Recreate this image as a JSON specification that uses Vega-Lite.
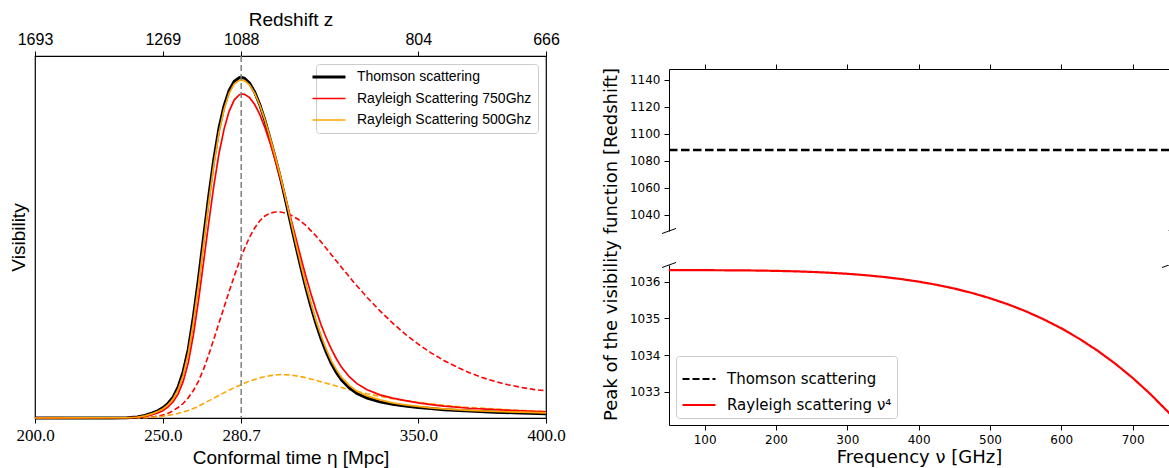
{
  "$schema": "https://vega.github.io/schema/vega-lite/v6.json",
  "background": "white",
  "padding": {"left": 8, "top": 9, "right": 0, "bottom": 0},
  "autosize": {"type": "pad"},
  "config": {
    "font": "DejaVu Sans",
    "view": {"stroke": null},
    "axis": {"grid": false, "domainColor": "black", "tickColor": "black", "labelColor": "black", "titleColor": "black", "titleFontWeight": "normal", "tickSize": 5, "labelPadding": 4, "domainWidth": 1, "tickWidth": 1, "labelFlush": false, "labelOverlap": false},
    "legend": {"labelLimit": 400}
  },
  "datasets": {
    "vis": [
      {"eta":200,"v":0,"s":"Thomson scattering","k":"solid"},{"eta":230,"v":0,"s":"Thomson scattering","k":"solid"},{"eta":236,"v":0.001,"s":"Thomson scattering","k":"solid"},{"eta":240,"v":0.003,"s":"Thomson scattering","k":"solid"},{"eta":243,"v":0.007,"s":"Thomson scattering","k":"solid"},{"eta":246,"v":0.014,"s":"Thomson scattering","k":"solid"},{"eta":248,"v":0.02,"s":"Thomson scattering","k":"solid"},{"eta":250,"v":0.028,"s":"Thomson scattering","k":"solid"},{"eta":252,"v":0.04,"s":"Thomson scattering","k":"solid"},{"eta":254,"v":0.057,"s":"Thomson scattering","k":"solid"},{"eta":256,"v":0.085,"s":"Thomson scattering","k":"solid"},{"eta":258,"v":0.128,"s":"Thomson scattering","k":"solid"},{"eta":260,"v":0.19,"s":"Thomson scattering","k":"solid"},{"eta":262,"v":0.28,"s":"Thomson scattering","k":"solid"},{"eta":264,"v":0.385,"s":"Thomson scattering","k":"solid"},{"eta":266,"v":0.5,"s":"Thomson scattering","k":"solid"},{"eta":268,"v":0.612,"s":"Thomson scattering","k":"solid"},{"eta":270,"v":0.715,"s":"Thomson scattering","k":"solid"},{"eta":272,"v":0.8,"s":"Thomson scattering","k":"solid"},{"eta":274,"v":0.862,"s":"Thomson scattering","k":"solid"},{"eta":276,"v":0.905,"s":"Thomson scattering","k":"solid"},{"eta":278,"v":0.93,"s":"Thomson scattering","k":"solid"},{"eta":280,"v":0.94,"s":"Thomson scattering","k":"solid"},{"eta":280.7,"v":0.941,"s":"Thomson scattering","k":"solid"},{"eta":282,"v":0.938,"s":"Thomson scattering","k":"solid"},{"eta":284,"v":0.925,"s":"Thomson scattering","k":"solid"},{"eta":286,"v":0.9,"s":"Thomson scattering","k":"solid"},{"eta":288,"v":0.865,"s":"Thomson scattering","k":"solid"},{"eta":290,"v":0.822,"s":"Thomson scattering","k":"solid"},{"eta":292,"v":0.772,"s":"Thomson scattering","k":"solid"},{"eta":294,"v":0.72,"s":"Thomson scattering","k":"solid"},{"eta":296,"v":0.665,"s":"Thomson scattering","k":"solid"},{"eta":298,"v":0.604,"s":"Thomson scattering","k":"solid"},{"eta":300,"v":0.54,"s":"Thomson scattering","k":"solid"},{"eta":302,"v":0.478,"s":"Thomson scattering","k":"solid"},{"eta":304,"v":0.418,"s":"Thomson scattering","k":"solid"},{"eta":306,"v":0.36,"s":"Thomson scattering","k":"solid"},{"eta":308,"v":0.308,"s":"Thomson scattering","k":"solid"},{"eta":310,"v":0.26,"s":"Thomson scattering","k":"solid"},{"eta":312,"v":0.218,"s":"Thomson scattering","k":"solid"},{"eta":314,"v":0.182,"s":"Thomson scattering","k":"solid"},{"eta":316,"v":0.15,"s":"Thomson scattering","k":"solid"},{"eta":318,"v":0.125,"s":"Thomson scattering","k":"solid"},{"eta":320,"v":0.105,"s":"Thomson scattering","k":"solid"},{"eta":323,"v":0.083,"s":"Thomson scattering","k":"solid"},{"eta":326,"v":0.068,"s":"Thomson scattering","k":"solid"},{"eta":330,"v":0.055,"s":"Thomson scattering","k":"solid"},{"eta":335,"v":0.045,"s":"Thomson scattering","k":"solid"},{"eta":340,"v":0.038,"s":"Thomson scattering","k":"solid"},{"eta":345,"v":0.033,"s":"Thomson scattering","k":"solid"},{"eta":350,"v":0.029,"s":"Thomson scattering","k":"solid"},{"eta":355,"v":0.026,"s":"Thomson scattering","k":"solid"},{"eta":360,"v":0.023,"s":"Thomson scattering","k":"solid"},{"eta":370,"v":0.019,"s":"Thomson scattering","k":"solid"},{"eta":380,"v":0.016,"s":"Thomson scattering","k":"solid"},{"eta":390,"v":0.014,"s":"Thomson scattering","k":"solid"},{"eta":400,"v":0.012,"s":"Thomson scattering","k":"solid"},

      {"eta":200,"v":0,"s":"Rayleigh Scattering 750Ghz","k":"solid"},{"eta":238,"v":0.001,"s":"Rayleigh Scattering 750Ghz","k":"solid"},{"eta":242,"v":0.003,"s":"Rayleigh Scattering 750Ghz","k":"solid"},{"eta":245,"v":0.007,"s":"Rayleigh Scattering 750Ghz","k":"solid"},{"eta":248,"v":0.014,"s":"Rayleigh Scattering 750Ghz","k":"solid"},{"eta":250,"v":0.02,"s":"Rayleigh Scattering 750Ghz","k":"solid"},{"eta":252,"v":0.03,"s":"Rayleigh Scattering 750Ghz","k":"solid"},{"eta":254,"v":0.044,"s":"Rayleigh Scattering 750Ghz","k":"solid"},{"eta":256,"v":0.066,"s":"Rayleigh Scattering 750Ghz","k":"solid"},{"eta":258,"v":0.101,"s":"Rayleigh Scattering 750Ghz","k":"solid"},{"eta":260,"v":0.153,"s":"Rayleigh Scattering 750Ghz","k":"solid"},{"eta":262,"v":0.23,"s":"Rayleigh Scattering 750Ghz","k":"solid"},{"eta":264,"v":0.325,"s":"Rayleigh Scattering 750Ghz","k":"solid"},{"eta":266,"v":0.432,"s":"Rayleigh Scattering 750Ghz","k":"solid"},{"eta":268,"v":0.54,"s":"Rayleigh Scattering 750Ghz","k":"solid"},{"eta":270,"v":0.642,"s":"Rayleigh Scattering 750Ghz","k":"solid"},{"eta":272,"v":0.73,"s":"Rayleigh Scattering 750Ghz","k":"solid"},{"eta":274,"v":0.798,"s":"Rayleigh Scattering 750Ghz","k":"solid"},{"eta":276,"v":0.848,"s":"Rayleigh Scattering 750Ghz","k":"solid"},{"eta":278,"v":0.879,"s":"Rayleigh Scattering 750Ghz","k":"solid"},{"eta":280,"v":0.893,"s":"Rayleigh Scattering 750Ghz","k":"solid"},{"eta":281,"v":0.895,"s":"Rayleigh Scattering 750Ghz","k":"solid"},{"eta":282,"v":0.894,"s":"Rayleigh Scattering 750Ghz","k":"solid"},{"eta":284,"v":0.885,"s":"Rayleigh Scattering 750Ghz","k":"solid"},{"eta":286,"v":0.866,"s":"Rayleigh Scattering 750Ghz","k":"solid"},{"eta":288,"v":0.838,"s":"Rayleigh Scattering 750Ghz","k":"solid"},{"eta":290,"v":0.802,"s":"Rayleigh Scattering 750Ghz","k":"solid"},{"eta":292,"v":0.76,"s":"Rayleigh Scattering 750Ghz","k":"solid"},{"eta":294,"v":0.713,"s":"Rayleigh Scattering 750Ghz","k":"solid"},{"eta":296,"v":0.663,"s":"Rayleigh Scattering 750Ghz","k":"solid"},{"eta":298,"v":0.61,"s":"Rayleigh Scattering 750Ghz","k":"solid"},{"eta":300,"v":0.555,"s":"Rayleigh Scattering 750Ghz","k":"solid"},{"eta":302,"v":0.5,"s":"Rayleigh Scattering 750Ghz","k":"solid"},{"eta":304,"v":0.445,"s":"Rayleigh Scattering 750Ghz","k":"solid"},{"eta":306,"v":0.392,"s":"Rayleigh Scattering 750Ghz","k":"solid"},{"eta":308,"v":0.343,"s":"Rayleigh Scattering 750Ghz","k":"solid"},{"eta":310,"v":0.298,"s":"Rayleigh Scattering 750Ghz","k":"solid"},{"eta":312,"v":0.257,"s":"Rayleigh Scattering 750Ghz","k":"solid"},{"eta":314,"v":0.221,"s":"Rayleigh Scattering 750Ghz","k":"solid"},{"eta":316,"v":0.19,"s":"Rayleigh Scattering 750Ghz","k":"solid"},{"eta":318,"v":0.163,"s":"Rayleigh Scattering 750Ghz","k":"solid"},{"eta":320,"v":0.14,"s":"Rayleigh Scattering 750Ghz","k":"solid"},{"eta":323,"v":0.114,"s":"Rayleigh Scattering 750Ghz","k":"solid"},{"eta":326,"v":0.095,"s":"Rayleigh Scattering 750Ghz","k":"solid"},{"eta":330,"v":0.078,"s":"Rayleigh Scattering 750Ghz","k":"solid"},{"eta":335,"v":0.064,"s":"Rayleigh Scattering 750Ghz","k":"solid"},{"eta":340,"v":0.055,"s":"Rayleigh Scattering 750Ghz","k":"solid"},{"eta":345,"v":0.048,"s":"Rayleigh Scattering 750Ghz","k":"solid"},{"eta":350,"v":0.042,"s":"Rayleigh Scattering 750Ghz","k":"solid"},{"eta":355,"v":0.037,"s":"Rayleigh Scattering 750Ghz","k":"solid"},{"eta":360,"v":0.033,"s":"Rayleigh Scattering 750Ghz","k":"solid"},{"eta":370,"v":0.027,"s":"Rayleigh Scattering 750Ghz","k":"solid"},{"eta":380,"v":0.023,"s":"Rayleigh Scattering 750Ghz","k":"solid"},{"eta":390,"v":0.02,"s":"Rayleigh Scattering 750Ghz","k":"solid"},{"eta":400,"v":0.017,"s":"Rayleigh Scattering 750Ghz","k":"solid"},

      {"eta":200,"v":0,"s":"Rayleigh Scattering 500Ghz","k":"solid"},{"eta":236,"v":0.001,"s":"Rayleigh Scattering 500Ghz","k":"solid"},{"eta":240,"v":0.002,"s":"Rayleigh Scattering 500Ghz","k":"solid"},{"eta":243,"v":0.006,"s":"Rayleigh Scattering 500Ghz","k":"solid"},{"eta":246,"v":0.012,"s":"Rayleigh Scattering 500Ghz","k":"solid"},{"eta":248,"v":0.018,"s":"Rayleigh Scattering 500Ghz","k":"solid"},{"eta":250,"v":0.025,"s":"Rayleigh Scattering 500Ghz","k":"solid"},{"eta":252,"v":0.036,"s":"Rayleigh Scattering 500Ghz","k":"solid"},{"eta":254,"v":0.052,"s":"Rayleigh Scattering 500Ghz","k":"solid"},{"eta":256,"v":0.078,"s":"Rayleigh Scattering 500Ghz","k":"solid"},{"eta":258,"v":0.118,"s":"Rayleigh Scattering 500Ghz","k":"solid"},{"eta":260,"v":0.178,"s":"Rayleigh Scattering 500Ghz","k":"solid"},{"eta":262,"v":0.265,"s":"Rayleigh Scattering 500Ghz","k":"solid"},{"eta":264,"v":0.368,"s":"Rayleigh Scattering 500Ghz","k":"solid"},{"eta":266,"v":0.482,"s":"Rayleigh Scattering 500Ghz","k":"solid"},{"eta":268,"v":0.595,"s":"Rayleigh Scattering 500Ghz","k":"solid"},{"eta":270,"v":0.7,"s":"Rayleigh Scattering 500Ghz","k":"solid"},{"eta":272,"v":0.787,"s":"Rayleigh Scattering 500Ghz","k":"solid"},{"eta":274,"v":0.852,"s":"Rayleigh Scattering 500Ghz","k":"solid"},{"eta":276,"v":0.897,"s":"Rayleigh Scattering 500Ghz","k":"solid"},{"eta":278,"v":0.923,"s":"Rayleigh Scattering 500Ghz","k":"solid"},{"eta":280,"v":0.933,"s":"Rayleigh Scattering 500Ghz","k":"solid"},{"eta":280.7,"v":0.934,"s":"Rayleigh Scattering 500Ghz","k":"solid"},{"eta":282,"v":0.932,"s":"Rayleigh Scattering 500Ghz","k":"solid"},{"eta":284,"v":0.92,"s":"Rayleigh Scattering 500Ghz","k":"solid"},{"eta":286,"v":0.897,"s":"Rayleigh Scattering 500Ghz","k":"solid"},{"eta":288,"v":0.864,"s":"Rayleigh Scattering 500Ghz","k":"solid"},{"eta":290,"v":0.823,"s":"Rayleigh Scattering 500Ghz","k":"solid"},{"eta":292,"v":0.775,"s":"Rayleigh Scattering 500Ghz","k":"solid"},{"eta":294,"v":0.724,"s":"Rayleigh Scattering 500Ghz","k":"solid"},{"eta":296,"v":0.67,"s":"Rayleigh Scattering 500Ghz","k":"solid"},{"eta":298,"v":0.61,"s":"Rayleigh Scattering 500Ghz","k":"solid"},{"eta":300,"v":0.548,"s":"Rayleigh Scattering 500Ghz","k":"solid"},{"eta":302,"v":0.486,"s":"Rayleigh Scattering 500Ghz","k":"solid"},{"eta":304,"v":0.426,"s":"Rayleigh Scattering 500Ghz","k":"solid"},{"eta":306,"v":0.369,"s":"Rayleigh Scattering 500Ghz","k":"solid"},{"eta":308,"v":0.317,"s":"Rayleigh Scattering 500Ghz","k":"solid"},{"eta":310,"v":0.269,"s":"Rayleigh Scattering 500Ghz","k":"solid"},{"eta":312,"v":0.227,"s":"Rayleigh Scattering 500Ghz","k":"solid"},{"eta":314,"v":0.19,"s":"Rayleigh Scattering 500Ghz","k":"solid"},{"eta":316,"v":0.158,"s":"Rayleigh Scattering 500Ghz","k":"solid"},{"eta":318,"v":0.133,"s":"Rayleigh Scattering 500Ghz","k":"solid"},{"eta":320,"v":0.112,"s":"Rayleigh Scattering 500Ghz","k":"solid"},{"eta":323,"v":0.09,"s":"Rayleigh Scattering 500Ghz","k":"solid"},{"eta":326,"v":0.074,"s":"Rayleigh Scattering 500Ghz","k":"solid"},{"eta":330,"v":0.061,"s":"Rayleigh Scattering 500Ghz","k":"solid"},{"eta":335,"v":0.05,"s":"Rayleigh Scattering 500Ghz","k":"solid"},{"eta":340,"v":0.042,"s":"Rayleigh Scattering 500Ghz","k":"solid"},{"eta":345,"v":0.036,"s":"Rayleigh Scattering 500Ghz","k":"solid"},{"eta":350,"v":0.032,"s":"Rayleigh Scattering 500Ghz","k":"solid"},{"eta":355,"v":0.028,"s":"Rayleigh Scattering 500Ghz","k":"solid"},{"eta":360,"v":0.025,"s":"Rayleigh Scattering 500Ghz","k":"solid"},{"eta":370,"v":0.021,"s":"Rayleigh Scattering 500Ghz","k":"solid"},{"eta":380,"v":0.018,"s":"Rayleigh Scattering 500Ghz","k":"solid"},{"eta":390,"v":0.016,"s":"Rayleigh Scattering 500Ghz","k":"solid"},{"eta":400,"v":0.014,"s":"Rayleigh Scattering 500Ghz","k":"solid"},

      {"eta":200,"v":0,"s":"Rayleigh Scattering 750Ghz","k":"dashed"},{"eta":240,"v":0,"s":"Rayleigh Scattering 750Ghz","k":"dashed"},{"eta":244,"v":0.002,"s":"Rayleigh Scattering 750Ghz","k":"dashed"},{"eta":247,"v":0.004,"s":"Rayleigh Scattering 750Ghz","k":"dashed"},{"eta":250,"v":0.008,"s":"Rayleigh Scattering 750Ghz","k":"dashed"},{"eta":253,"v":0.016,"s":"Rayleigh Scattering 750Ghz","k":"dashed"},{"eta":256,"v":0.029,"s":"Rayleigh Scattering 750Ghz","k":"dashed"},{"eta":258,"v":0.04,"s":"Rayleigh Scattering 750Ghz","k":"dashed"},{"eta":260,"v":0.056,"s":"Rayleigh Scattering 750Ghz","k":"dashed"},{"eta":262,"v":0.076,"s":"Rayleigh Scattering 750Ghz","k":"dashed"},{"eta":264,"v":0.102,"s":"Rayleigh Scattering 750Ghz","k":"dashed"},{"eta":266,"v":0.135,"s":"Rayleigh Scattering 750Ghz","k":"dashed"},{"eta":268,"v":0.175,"s":"Rayleigh Scattering 750Ghz","k":"dashed"},{"eta":270,"v":0.218,"s":"Rayleigh Scattering 750Ghz","k":"dashed"},{"eta":272,"v":0.262,"s":"Rayleigh Scattering 750Ghz","k":"dashed"},{"eta":274,"v":0.306,"s":"Rayleigh Scattering 750Ghz","k":"dashed"},{"eta":276,"v":0.35,"s":"Rayleigh Scattering 750Ghz","k":"dashed"},{"eta":278,"v":0.392,"s":"Rayleigh Scattering 750Ghz","k":"dashed"},{"eta":280,"v":0.432,"s":"Rayleigh Scattering 750Ghz","k":"dashed"},{"eta":282,"v":0.468,"s":"Rayleigh Scattering 750Ghz","k":"dashed"},{"eta":284,"v":0.5,"s":"Rayleigh Scattering 750Ghz","k":"dashed"},{"eta":286,"v":0.525,"s":"Rayleigh Scattering 750Ghz","k":"dashed"},{"eta":288,"v":0.545,"s":"Rayleigh Scattering 750Ghz","k":"dashed"},{"eta":290,"v":0.558,"s":"Rayleigh Scattering 750Ghz","k":"dashed"},{"eta":292,"v":0.566,"s":"Rayleigh Scattering 750Ghz","k":"dashed"},{"eta":294,"v":0.569,"s":"Rayleigh Scattering 750Ghz","k":"dashed"},{"eta":296,"v":0.569,"s":"Rayleigh Scattering 750Ghz","k":"dashed"},{"eta":298,"v":0.566,"s":"Rayleigh Scattering 750Ghz","k":"dashed"},{"eta":300,"v":0.561,"s":"Rayleigh Scattering 750Ghz","k":"dashed"},{"eta":303,"v":0.549,"s":"Rayleigh Scattering 750Ghz","k":"dashed"},{"eta":306,"v":0.532,"s":"Rayleigh Scattering 750Ghz","k":"dashed"},{"eta":310,"v":0.503,"s":"Rayleigh Scattering 750Ghz","k":"dashed"},{"eta":315,"v":0.46,"s":"Rayleigh Scattering 750Ghz","k":"dashed"},{"eta":320,"v":0.416,"s":"Rayleigh Scattering 750Ghz","k":"dashed"},{"eta":325,"v":0.373,"s":"Rayleigh Scattering 750Ghz","k":"dashed"},{"eta":330,"v":0.333,"s":"Rayleigh Scattering 750Ghz","k":"dashed"},{"eta":335,"v":0.296,"s":"Rayleigh Scattering 750Ghz","k":"dashed"},{"eta":340,"v":0.262,"s":"Rayleigh Scattering 750Ghz","k":"dashed"},{"eta":345,"v":0.231,"s":"Rayleigh Scattering 750Ghz","k":"dashed"},{"eta":350,"v":0.204,"s":"Rayleigh Scattering 750Ghz","k":"dashed"},{"eta":355,"v":0.18,"s":"Rayleigh Scattering 750Ghz","k":"dashed"},{"eta":360,"v":0.159,"s":"Rayleigh Scattering 750Ghz","k":"dashed"},{"eta":365,"v":0.141,"s":"Rayleigh Scattering 750Ghz","k":"dashed"},{"eta":370,"v":0.125,"s":"Rayleigh Scattering 750Ghz","k":"dashed"},{"eta":375,"v":0.112,"s":"Rayleigh Scattering 750Ghz","k":"dashed"},{"eta":380,"v":0.101,"s":"Rayleigh Scattering 750Ghz","k":"dashed"},{"eta":385,"v":0.092,"s":"Rayleigh Scattering 750Ghz","k":"dashed"},{"eta":390,"v":0.085,"s":"Rayleigh Scattering 750Ghz","k":"dashed"},{"eta":395,"v":0.079,"s":"Rayleigh Scattering 750Ghz","k":"dashed"},{"eta":400,"v":0.075,"s":"Rayleigh Scattering 750Ghz","k":"dashed"},

      {"eta":200,"v":0,"s":"Rayleigh Scattering 500Ghz","k":"dashed"},{"eta":240,"v":0,"s":"Rayleigh Scattering 500Ghz","k":"dashed"},{"eta":245,"v":0.002,"s":"Rayleigh Scattering 500Ghz","k":"dashed"},{"eta":250,"v":0.005,"s":"Rayleigh Scattering 500Ghz","k":"dashed"},{"eta":255,"v":0.011,"s":"Rayleigh Scattering 500Ghz","k":"dashed"},{"eta":260,"v":0.021,"s":"Rayleigh Scattering 500Ghz","k":"dashed"},{"eta":263,"v":0.029,"s":"Rayleigh Scattering 500Ghz","k":"dashed"},{"eta":266,"v":0.04,"s":"Rayleigh Scattering 500Ghz","k":"dashed"},{"eta":270,"v":0.055,"s":"Rayleigh Scattering 500Ghz","k":"dashed"},{"eta":274,"v":0.07,"s":"Rayleigh Scattering 500Ghz","k":"dashed"},{"eta":278,"v":0.084,"s":"Rayleigh Scattering 500Ghz","k":"dashed"},{"eta":280.7,"v":0.092,"s":"Rayleigh Scattering 500Ghz","k":"dashed"},{"eta":284,"v":0.102,"s":"Rayleigh Scattering 500Ghz","k":"dashed"},{"eta":288,"v":0.111,"s":"Rayleigh Scattering 500Ghz","k":"dashed"},{"eta":292,"v":0.117,"s":"Rayleigh Scattering 500Ghz","k":"dashed"},{"eta":296,"v":0.12,"s":"Rayleigh Scattering 500Ghz","k":"dashed"},{"eta":300,"v":0.119,"s":"Rayleigh Scattering 500Ghz","k":"dashed"},{"eta":305,"v":0.113,"s":"Rayleigh Scattering 500Ghz","k":"dashed"},{"eta":310,"v":0.104,"s":"Rayleigh Scattering 500Ghz","k":"dashed"},{"eta":315,"v":0.094,"s":"Rayleigh Scattering 500Ghz","k":"dashed"},{"eta":320,"v":0.084,"s":"Rayleigh Scattering 500Ghz","k":"dashed"},{"eta":325,"v":0.075,"s":"Rayleigh Scattering 500Ghz","k":"dashed"},{"eta":330,"v":0.067,"s":"Rayleigh Scattering 500Ghz","k":"dashed"},{"eta":335,"v":0.06,"s":"Rayleigh Scattering 500Ghz","k":"dashed"},{"eta":340,"v":0.053,"s":"Rayleigh Scattering 500Ghz","k":"dashed"},{"eta":345,"v":0.048,"s":"Rayleigh Scattering 500Ghz","k":"dashed"},{"eta":350,"v":0.043,"s":"Rayleigh Scattering 500Ghz","k":"dashed"},{"eta":355,"v":0.039,"s":"Rayleigh Scattering 500Ghz","k":"dashed"},{"eta":360,"v":0.035,"s":"Rayleigh Scattering 500Ghz","k":"dashed"},{"eta":370,"v":0.029,"s":"Rayleigh Scattering 500Ghz","k":"dashed"},{"eta":380,"v":0.025,"s":"Rayleigh Scattering 500Ghz","k":"dashed"},{"eta":390,"v":0.021,"s":"Rayleigh Scattering 500Ghz","k":"dashed"},{"eta":400,"v":0.018,"s":"Rayleigh Scattering 500Ghz","k":"dashed"}
    ],
    "peak": [
      {"nu":50,"z":1088,"series":"Thomson scattering"},{"nu":400,"z":1088,"series":"Thomson scattering"},{"nu":775,"z":1088,"series":"Thomson scattering"},
      {"nu":50,"z":1036.31,"series":"Rayleigh scattering ν⁴"},{"nu":75,"z":1036.31,"series":"Rayleigh scattering ν⁴"},{"nu":100,"z":1036.309,"series":"Rayleigh scattering ν⁴"},{"nu":125,"z":1036.307,"series":"Rayleigh scattering ν⁴"},{"nu":150,"z":1036.304,"series":"Rayleigh scattering ν⁴"},{"nu":175,"z":1036.299,"series":"Rayleigh scattering ν⁴"},{"nu":200,"z":1036.29,"series":"Rayleigh scattering ν⁴"},{"nu":225,"z":1036.279,"series":"Rayleigh scattering ν⁴"},{"nu":250,"z":1036.262,"series":"Rayleigh scattering ν⁴"},{"nu":275,"z":1036.24,"series":"Rayleigh scattering ν⁴"},{"nu":300,"z":1036.211,"series":"Rayleigh scattering ν⁴"},{"nu":325,"z":1036.174,"series":"Rayleigh scattering ν⁴"},{"nu":350,"z":1036.127,"series":"Rayleigh scattering ν⁴"},{"nu":375,"z":1036.069,"series":"Rayleigh scattering ν⁴"},{"nu":400,"z":1035.998,"series":"Rayleigh scattering ν⁴"},{"nu":425,"z":1035.912,"series":"Rayleigh scattering ν⁴"},{"nu":450,"z":1035.81,"series":"Rayleigh scattering ν⁴"},{"nu":475,"z":1035.689,"series":"Rayleigh scattering ν⁴"},{"nu":500,"z":1035.547,"series":"Rayleigh scattering ν⁴"},{"nu":525,"z":1035.383,"series":"Rayleigh scattering ν⁴"},{"nu":550,"z":1035.194,"series":"Rayleigh scattering ν⁴"},{"nu":575,"z":1034.976,"series":"Rayleigh scattering ν⁴"},{"nu":600,"z":1034.729,"series":"Rayleigh scattering ν⁴"},{"nu":625,"z":1034.448,"series":"Rayleigh scattering ν⁴"},{"nu":650,"z":1034.132,"series":"Rayleigh scattering ν⁴"},{"nu":675,"z":1033.777,"series":"Rayleigh scattering ν⁴"},{"nu":700,"z":1033.381,"series":"Rayleigh scattering ν⁴"},{"nu":725,"z":1032.939,"series":"Rayleigh scattering ν⁴"},{"nu":750,"z":1032.45,"series":"Rayleigh scattering ν⁴"},{"nu":775,"z":1031.91,"series":"Rayleigh scattering ν⁴"}
    ],
    "marker": [{"eta": 280.7}],
    "brkTop": [{"nu": 50, "z": 1028}],
    "brkTopR": [{"nu": 751, "z": 1028}],
    "brkBot": [{"nu": 50, "z": 1036.45}],
    "brkBotR": [{"nu": 751, "z": 1036.45}],
    "spacer": [{"a": 0}]
  },
  "bounds": "flush",
  "spacing": 123,
  "resolve": {"scale": {"color": "independent", "strokeDash": "independent", "x": "independent", "y": "independent"}, "legend": {"color": "independent", "strokeDash": "independent"}},
  "hconcat": [
    {
      "width": 511,
      "height": 362,
      "view": {"stroke": "black", "strokeWidth": 1.2},
      "layer": [
        {
          "data": {"name": "vis"},
          "transform": [{"filter": "datum.k == 'dashed'"}],
          "mark": {"type": "line", "strokeWidth": 1.6, "strokeDash": [5.5, 2.8]},
          "encoding": {
            "x": {"field": "eta", "type": "quantitative", "scale": {"domain": [200, 400], "nice": false, "zero": false},
                  "axis": {"orient": "bottom", "values": [200, 250, 280.7, 350, 400], "format": ".1f", "domain": false, "labelOverlap": false, "labelFont": "Liberation Serif", "labelFontSize": 17, "title": "Conformal time η [Mpc]", "titleFont": "Liberation Sans", "titleFontSize": 19, "titlePadding": 5}},
            "y": {"field": "v", "type": "quantitative", "scale": {"domain": [0, 1], "nice": false, "zero": false},
                  "axis": {"title": "Visibility", "labels": false, "ticks": false, "domain": false, "titleFont": "Liberation Sans", "titleFontSize": 19, "titlePadding": 7}},
            "color": {"field": "s", "type": "nominal", "scale": {"domain": ["Thomson scattering", "Rayleigh Scattering 750Ghz", "Rayleigh Scattering 500Ghz"], "range": ["black", "red", "orange"]}}
          }
        },
        {
          "data": {"name": "vis"},
          "transform": [{"filter": "datum.k == 'solid' && datum.s == 'Thomson scattering'"}],
          "mark": {"type": "line", "strokeWidth": 3},
          "encoding": {
            "x": {"field": "eta", "type": "quantitative",
                  "axis": {"orient": "top", "values": [200, 250, 280.7, 350, 400], "domain": false, "labelOverlap": false, "labelExpr": "datum.value == 200 ? '1693' : datum.value == 250 ? '1269' : datum.value == 350 ? '804' : datum.value == 400 ? '666' : '1088'", "labelFont": "Liberation Sans", "labelFontSize": 16, "title": "Redshift z", "titleFont": "Liberation Sans", "titleFontSize": 19, "titlePadding": 2}},
            "y": {"field": "v", "type": "quantitative"},
            "color": {"field": "s", "type": "nominal", "scale": {"domain": ["Thomson scattering", "Rayleigh Scattering 750Ghz", "Rayleigh Scattering 500Ghz"], "range": ["black", "red", "orange"]}}
          }
        },
        {
          "data": {"name": "vis"},
          "transform": [{"filter": "datum.k == 'solid' && datum.s != 'Thomson scattering'"}],
          "mark": {"type": "line", "strokeWidth": 1.7},
          "encoding": {
            "x": {"field": "eta", "type": "quantitative", "axis": null},
            "y": {"field": "v", "type": "quantitative"},
            "color": {"field": "s", "type": "nominal", "scale": {"domain": ["Thomson scattering", "Rayleigh Scattering 750Ghz", "Rayleigh Scattering 500Ghz"], "range": ["black", "red", "orange"]},
                      "legend": {"orient": "top-right", "offset": 8, "title": null, "labelFont": "Liberation Sans", "labelFontSize": 14, "labelColor": "black", "labelLimit": 400, "symbolType": "stroke", "symbolSize": 1089, "symbolStrokeWidth": 1.7, "strokeColor": "#cccccc", "fillColor": "white", "padding": 6, "cornerRadius": 3, "rowPadding": 7.5, "labelOffset": 21,
                                 "encode": {"symbols": {"update": {"strokeWidth": {"signal": "datum.value == 'Thomson scattering' ? 3 : 1.7"}}}}}}
          }
        },
        {
          "data": {"name": "marker"},
          "mark": {"type": "rule", "color": "gray", "strokeWidth": 1.5, "strokeDash": [6, 3]},
          "encoding": {"x": {"field": "eta", "type": "quantitative", "axis": null}}
        }
      ],
      "resolve": {"axis": {"x": "independent"}}
    },
    {
      "bounds": "flush",
      "spacing": 12,
      "resolve": {"scale": {"color": "independent", "strokeDash": "independent", "x": "independent", "y": "independent"}, "legend": {"color": "independent", "strokeDash": "independent"}},
      "vconcat": [
        {
          "width": 500,
          "height": 1,
          "data": {"name": "spacer"},
          "mark": {"type": "point", "opacity": 0, "size": 1}
        },
        {
          "bounds": "flush",
          "spacing": 34,
          "resolve": {"scale": {"color": "independent", "strokeDash": "independent", "x": "independent", "y": "independent"}, "legend": {"color": "independent", "strokeDash": "independent"}},
          "vconcat": [
            {
              "width": 500,
              "height": 162,
              "encoding": {
                "x": {"field": "nu", "type": "quantitative", "scale": {"domain": [50, 751], "nice": false, "zero": false},
                      "axis": {"orient": "top", "values": [100, 200, 300, 400, 500, 600, 700], "labels": false, "title": null}},
                "y": {"field": "z", "type": "quantitative", "scale": {"domain": [1028, 1148], "nice": false, "zero": false},
                      "axis": {"values": [1040, 1060, 1080, 1100, 1120, 1140], "format": "d", "labelOverlap": false, "labelFontSize": 12, "title": "Peak of the visibility function [Redshift]", "titleFontSize": 18, "titleY": 175, "titlePadding": 9}}
              },
              "layer": [
                {
                  "data": {"name": "peak"},
                  "transform": [{"filter": "datum.series == 'Thomson scattering'"}],
                  "mark": {"type": "line", "color": "black", "strokeWidth": 2.3, "strokeDash": [8.5, 3.5], "clip": true}
                },
                {
                  "data": {"name": "brkTop"},
                  "mark": {"type": "point", "shape": "M-1,0.36L1,-0.36", "size": 196, "filled": false, "color": "black", "strokeWidth": 1, "opacity": 1}
                },
                {
                  "data": {"name": "brkTopR"},
                  "mark": {"type": "point", "shape": "M-1,0.36L1,-0.36", "size": 196, "filled": false, "color": "black", "strokeWidth": 1, "opacity": 1, "clip": true}
                }
              ]
            },
            {
              "width": 500,
              "height": 160,
              "encoding": {
                "x": {"field": "nu", "type": "quantitative", "scale": {"domain": [50, 751], "nice": false, "zero": false},
                      "axis": {"values": [100, 200, 300, 400, 500, 600, 700], "format": "d", "labelOverlap": false, "labelFontSize": 12, "title": "Frequency ν [GHz]", "titleFontSize": 18, "titlePadding": 3}},
                "y": {"field": "z", "type": "quantitative", "scale": {"domain": [1032.1, 1036.45], "nice": false, "zero": false},
                      "axis": {"values": [1033, 1034, 1035, 1036], "format": "d", "labelOverlap": false, "labelFontSize": 12, "title": null}}
              },
              "layer": [
                {
                  "data": {"name": "peak"},
                  "mark": {"type": "line", "strokeWidth": 2.2, "clip": true},
                  "encoding": {
                    "color": {"field": "series", "type": "nominal", "scale": {"domain": ["Thomson scattering", "Rayleigh scattering ν⁴"], "range": ["black", "red"]},
                              "legend": {"orient": "bottom-left", "offset": 7, "title": null, "labelFont": "DejaVu Sans", "labelFontSize": 15, "labelColor": "black", "labelLimit": 400, "symbolType": "stroke", "symbolSize": 1089, "symbolStrokeWidth": 2.2, "strokeColor": "#cccccc", "fillColor": "white", "padding": 5, "cornerRadius": 3, "rowPadding": -3, "labelOffset": 10}},
                    "strokeDash": {"field": "series", "type": "nominal", "scale": {"domain": ["Thomson scattering", "Rayleigh scattering ν⁴"], "range": [[7, 3], [1, 0]]},
                              "legend": {"orient": "bottom-left", "offset": 7, "title": null, "labelFont": "DejaVu Sans", "labelFontSize": 15, "labelColor": "black", "labelLimit": 400, "symbolType": "stroke", "symbolSize": 1089, "symbolStrokeWidth": 2.2, "strokeColor": "#cccccc", "fillColor": "white", "padding": 5, "cornerRadius": 3, "rowPadding": -3, "labelOffset": 10}}
                  }
                },
                {
                  "data": {"name": "brkBot"},
                  "mark": {"type": "point", "shape": "M-1,0.36L1,-0.36", "size": 196, "filled": false, "color": "black", "strokeWidth": 1, "opacity": 1}
                },
                {
                  "data": {"name": "brkBotR"},
                  "mark": {"type": "point", "shape": "M-1,0.36L1,-0.36", "size": 196, "filled": false, "color": "black", "strokeWidth": 1, "opacity": 1, "clip": true}
                }
              ]
            }
          ]
        }
      ]
    }
  ]
}
